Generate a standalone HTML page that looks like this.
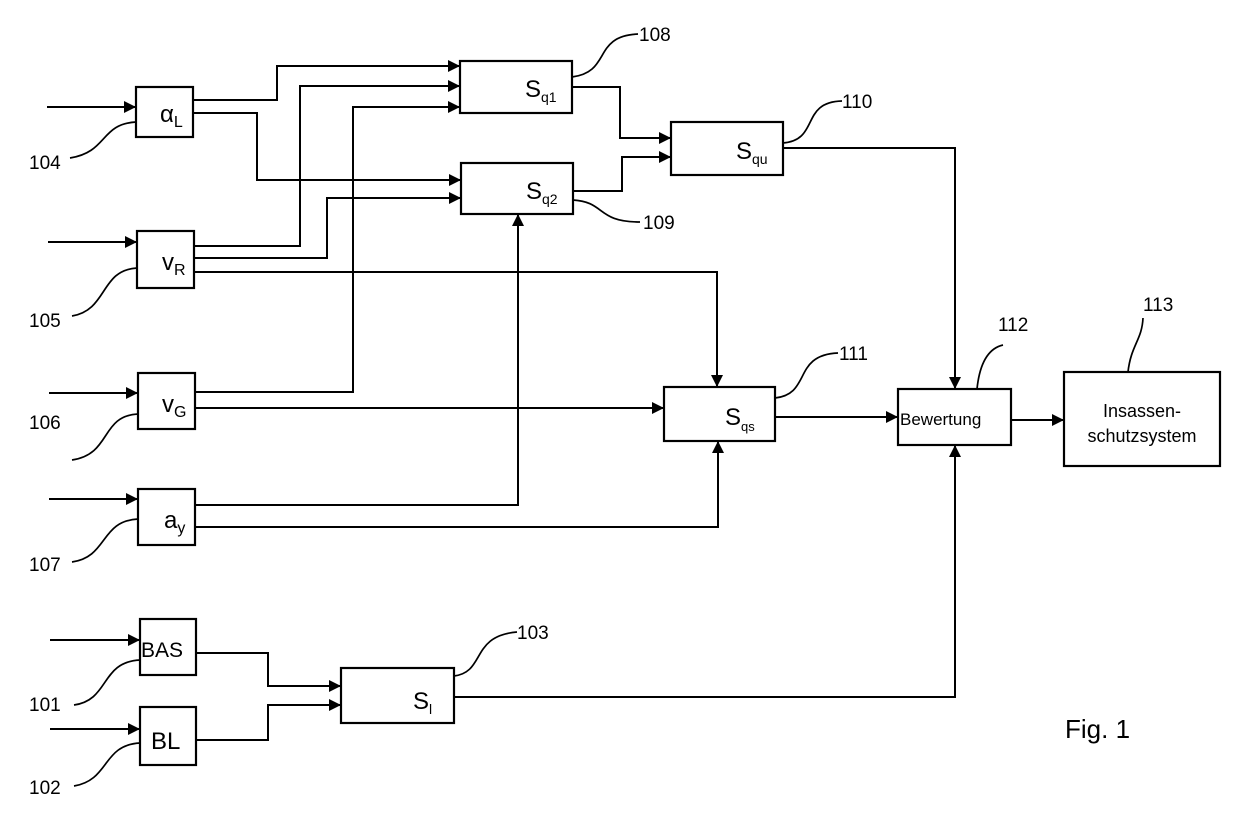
<!DOCTYPE html>
<html><head><meta charset="utf-8"><style>
html,body{margin:0;padding:0;background:#fff;}
svg{display:block;}
text{font-family:"Liberation Sans",Arial,sans-serif;fill:#000;}
</style></head><body>
<svg width="1248" height="816" viewBox="0 0 1248 816" xmlns="http://www.w3.org/2000/svg">
<defs>
<marker id="a" viewBox="0 0 10 10" refX="10" refY="5" markerWidth="12" markerHeight="12" markerUnits="userSpaceOnUse" orient="auto"><path d="M0,0L10,5L0,10z" fill="#000"/></marker>
</defs>
<g fill="none" stroke="#000" stroke-width="2.2">
<rect x="136" y="87" width="57" height="50"/>
<rect x="137" y="231" width="57" height="57"/>
<rect x="138" y="373" width="57" height="56"/>
<rect x="138" y="489" width="57" height="56"/>
<rect x="140" y="619" width="56" height="56"/>
<rect x="140" y="707" width="56" height="58"/>
<rect x="460" y="61" width="112" height="52"/>
<rect x="461" y="163" width="112" height="51"/>
<rect x="671" y="122" width="112" height="53"/>
<rect x="664" y="387" width="111" height="54"/>
<rect x="898" y="389" width="113" height="56"/>
<rect x="1064" y="372" width="156" height="94"/>
<rect x="341" y="668" width="113" height="55"/>
</g>
<g fill="none" stroke="#000" stroke-width="2" marker-end="url(#a)">
<path d="M47,107H136"/>
<path d="M48,242H137"/>
<path d="M49,393H138"/>
<path d="M49,499H138"/>
<path d="M50,640H140"/>
<path d="M50,729H140"/>
<path d="M193,100H277V66H460"/>
<path d="M193,113H257V180H461"/>
<path d="M194,246H300V86H460"/>
<path d="M194,258H327V198H461"/>
<path d="M194,272H717V387"/>
<path d="M195,392H353V107H460"/>
<path d="M195,408H664"/>
<path d="M195,505H518V214"/>
<path d="M195,527H718V441"/>
<path d="M572,87H620V138H671"/>
<path d="M573,191H622V157H671"/>
<path d="M783,148H955V389"/>
<path d="M775,417H898"/>
<path d="M1011,420H1064"/>
<path d="M196,653H268V686H341"/>
<path d="M196,740H268V705H341"/>
<path d="M454,697H955V445"/>
</g>
<g fill="none" stroke="#000" stroke-width="1.7">
<path d="M136,122C100,124 108,152 70,158"/>
<path d="M137,268C100,270 108,310 72,316"/>
<path d="M138,414C100,416 112,454 72,460"/>
<path d="M138,519C100,521 108,557 72,562"/>
<path d="M140,660C100,662 110,700 74,705"/>
<path d="M140,743C102,745 110,780 74,786"/>
<path d="M572,77C612,72 592,36 638,34"/>
<path d="M573,200C606,202 596,222 640,222"/>
<path d="M783,143C820,140 800,102 842,101"/>
<path d="M775,398C812,394 792,355 838,353"/>
<path d="M977,389C980,360 990,348 1003,345"/>
<path d="M1128,372C1131,345 1142,340 1143,318"/>
<path d="M454,676C486,672 470,636 517,632"/>
</g>
<g font-size="19">
<text x="29" y="169">104</text>
<text x="29" y="327">105</text>
<text x="29" y="429">106</text>
<text x="29" y="571">107</text>
<text x="29" y="711">101</text>
<text x="29" y="794">102</text>
<text x="639" y="41">108</text>
<text x="643" y="229">109</text>
<text x="842" y="108">110</text>
<text x="839" y="360">111</text>
<text x="998" y="331">112</text>
<text x="1143" y="311">113</text>
<text x="517" y="639">103</text>
</g>
<g font-size="24">
<text x="160" y="122">α<tspan font-size="16" dy="5">L</tspan></text>
<text x="162" y="270">v<tspan font-size="16" dy="5">R</tspan></text>
<text x="162" y="412">v<tspan font-size="16" dy="5">G</tspan></text>
<text x="164" y="528">a<tspan font-size="16" dy="5">y</tspan></text>
<text x="141" y="657" font-size="21">BAS</text>
<text x="151" y="749" font-size="24">BL</text>
<text x="525" y="97">S<tspan font-size="14" dy="5">q1</tspan></text>
<text x="526" y="199">S<tspan font-size="14" dy="5">q2</tspan></text>
<text x="736" y="159">S<tspan font-size="14" dy="5">qu</tspan></text>
<text x="725" y="425">S<tspan font-size="13" dy="6">qs</tspan></text>
<text x="413" y="709">S<tspan font-size="14" dy="5">l</tspan></text>
</g>
<text x="900" y="425" font-size="17">Bewertung</text>
<text x="1142" y="417" font-size="18" text-anchor="middle">Insassen-</text>
<text x="1142" y="442" font-size="18" text-anchor="middle">schutzsystem</text>
<text x="1065" y="738" font-size="26">Fig. 1</text>
</svg>
</body></html>
